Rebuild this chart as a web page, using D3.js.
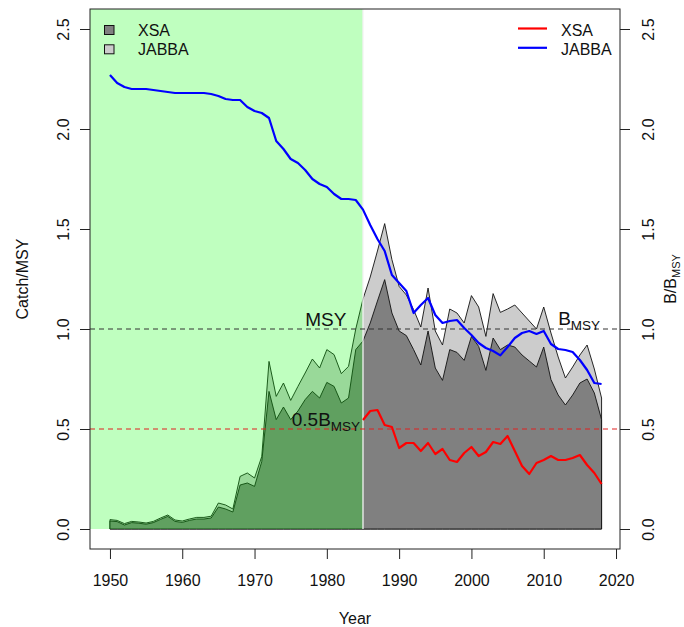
<!DOCTYPE html>
<html>
<head>
<meta charset="utf-8">
<script src="https://cdn.jsdelivr.net/npm/d3@7"></script>
<style>
  body { margin: 0; background: #fff; }
  svg text { font-family: "Liberation Sans", Arial, sans-serif; fill: #111; }
</style>
</head>
<body>
<svg id="chart" width="684" height="627"></svg>
<script>
// ---- data -------------------------------------------------------------
const years = d3.range(1950, 2019);

// catch relative to MSY, by assessment model
const catchJabba = [
  0.047, 0.043, 0.027, 0.038, 0.035, 0.030, 0.038, 0.055, 0.070, 0.045,
  0.040, 0.050, 0.058, 0.058, 0.064, 0.130, 0.120, 0.100, 0.263, 0.280,
  0.255, 0.363, 0.838, 0.663, 0.730, 0.643, 0.713, 0.780, 0.850, 0.805,
  0.897, 0.872, 0.777, 0.813, 1.000, 1.150, 1.260, 1.390, 1.527, 1.347,
  1.213, 1.170, 1.097, 1.010, 1.205, 0.990, 0.920, 1.100, 1.080, 1.030,
  1.167, 1.110, 0.963, 1.177, 1.083, 1.100, 1.120, 1.080, 1.040, 1.000,
  1.110, 0.980, 0.860, 0.755, 0.810, 0.870, 0.920, 0.800, 0.655
];
const catchXsa = [
  0.040, 0.037, 0.020, 0.032, 0.029, 0.024, 0.032, 0.048, 0.063, 0.038,
  0.033, 0.043, 0.050, 0.050, 0.055, 0.110, 0.100, 0.085, 0.220, 0.230,
  0.213, 0.338, 0.688, 0.547, 0.610, 0.547, 0.590, 0.647, 0.688, 0.655,
  0.733, 0.713, 0.630, 0.655, 0.897, 0.940, 1.030, 1.140, 1.247, 1.080,
  0.990, 0.967, 0.897, 0.820, 0.990, 0.805, 0.743, 0.897, 0.883, 0.843,
  0.963, 0.913, 0.793, 0.955, 0.897, 0.920, 0.910, 0.870, 0.840, 0.810,
  0.910, 0.747, 0.670, 0.620, 0.670, 0.730, 0.750, 0.680, 0.547
];

// biomass relative to BMSY
const bJabba = [
  2.270, 2.230, 2.210, 2.200, 2.200, 2.200, 2.195, 2.190, 2.185, 2.180,
  2.180, 2.180, 2.180, 2.180, 2.175, 2.165, 2.150, 2.145, 2.145, 2.110,
  2.090, 2.080, 2.055, 1.940, 1.900, 1.850, 1.830, 1.795, 1.750, 1.725,
  1.710, 1.675, 1.650, 1.650, 1.645, 1.597, 1.520, 1.450, 1.390, 1.270,
  1.230, 1.190, 1.080, 1.120, 1.155, 1.070, 1.030, 1.040, 1.045, 1.005,
  0.970, 0.930, 0.905, 0.890, 0.868, 0.910, 0.955, 0.980, 0.990, 0.975,
  0.990, 0.925, 0.900, 0.895, 0.885, 0.845, 0.795, 0.730, 0.725
];
const xsaYears = d3.range(1985, 2019);
const bXsa = [
  0.545, 0.590, 0.595, 0.520, 0.510, 0.405, 0.430, 0.430, 0.390, 0.430,
  0.375, 0.400, 0.345, 0.335, 0.380, 0.410, 0.365, 0.385, 0.435, 0.425,
  0.465, 0.390, 0.315, 0.275, 0.330, 0.345, 0.365, 0.345, 0.345, 0.355,
  0.370, 0.320, 0.280, 0.225
];

const xTicks = [1950, 1960, 1970, 1980, 1990, 2000, 2010, 2020];
const yTicks = [0, 0.5, 1.0, 1.5, 2.0, 2.5];
const startYear = 1985;   // start of the assessed period

// ---- layout -----------------------------------------------------------
const svg = d3.select("#chart");
const plot = { left: 90, right: 620, top: 9, bottom: 549 };
const x = d3.scaleLinear().domain([1947.24, 2020.55]).range([plot.left, plot.right]);
const y = d3.scaleLinear().domain([-0.1, 2.6]).range([plot.bottom, plot.top]);

const greyLight = "#cccccc", greyDark = "#808080";

// ---- catch polygons ---------------------------------------------------
const catchArea = d3.area()
  .x((d, i) => x(years[i]))
  .y0(y(0))
  .y1(d => y(d));

svg.append("path").datum(catchJabba)
  .attr("d", catchArea)
  .attr("fill", greyLight).attr("stroke", "#111").attr("stroke-width", 0.9)
  .attr("stroke-linejoin", "miter");
svg.append("path").datum(catchXsa)
  .attr("d", catchArea)
  .attr("fill", greyDark).attr("stroke", "#111").attr("stroke-width", 0.9);

// translucent green band over the pre-assessment years
svg.append("rect")
  .attr("x", plot.left).attr("y", y(2.6))
  .attr("width", x(startYear) - plot.left).attr("height", y(0) - y(2.6))
  .attr("fill", "rgb(0,255,0)").attr("fill-opacity", 0.25);
svg.append("line")
  .attr("x1", x(startYear)).attr("x2", x(startYear))
  .attr("y1", y(0)).attr("y2", y(2.6))
  .attr("stroke", "#f2f2f2").attr("stroke-width", 1.3);

// ---- reference lines --------------------------------------------------
svg.append("line")
  .attr("x1", plot.left).attr("x2", plot.right)
  .attr("y1", y(1)).attr("y2", y(1))
  .attr("stroke", "#333").attr("stroke-width", 1).attr("stroke-dasharray", "5,4");
svg.append("line")
  .attr("x1", plot.left).attr("x2", plot.right)
  .attr("y1", y(0.5)).attr("y2", y(0.5))
  .attr("stroke", "#e02020").attr("stroke-width", 1).attr("stroke-dasharray", "5,4");

// ---- biomass trajectories ---------------------------------------------
svg.append("path").datum(bJabba)
  .attr("d", d3.line().x((d, i) => x(years[i])).y(d => y(d)))
  .attr("fill", "none").attr("stroke", "#0000ff").attr("stroke-width", 2.2)
  .attr("stroke-linejoin", "round");
svg.append("path").datum(bXsa)
  .attr("d", d3.line().x((d, i) => x(xsaYears[i])).y(d => y(d)))
  .attr("fill", "none").attr("stroke", "#ff0000").attr("stroke-width", 2.2)
  .attr("stroke-linejoin", "round");

// ---- annotations ------------------------------------------------------
const annot = svg.append("g").attr("font-size", 19);
annot.append("text")
  .attr("x", x(1982.7)).attr("y", y(1) - 3)
  .attr("text-anchor", "end").text("MSY");

const bm = annot.append("text").attr("x", x(2012)).attr("y", y(1) - 4);
bm.append("tspan").text("B");
bm.append("tspan").attr("font-size", 13.5).attr("dy", 5).text("MSY");

const hb = annot.append("text").attr("x", x(1984.6)).attr("y", y(0.5) - 3)
  .attr("text-anchor", "end");
hb.append("tspan").text("0.5B");
hb.append("tspan").attr("font-size", 13.5).attr("dy", 5).text("MSY");

// ---- legends ----------------------------------------------------------
const legL = svg.append("g").attr("font-size", 16);
[["XSA", greyDark], ["JABBA", greyLight]].forEach(([name, col], i) => {
  legL.append("rect")
    .attr("x", 104.5).attr("y", 25.5 + i * 19.3)
    .attr("width", 9.5).attr("height", 9)
    .attr("fill", col).attr("stroke", "#111").attr("stroke-width", 1);
  legL.append("text").attr("x", 138).attr("y", 35.5 + i * 19.3).text(name);
});

const legR = svg.append("g").attr("font-size", 16);
[["XSA", "#ff0000"], ["JABBA", "#0000ff"]].forEach(([name, col], i) => {
  legR.append("line")
    .attr("x1", 518).attr("x2", 547)
    .attr("y1", 28.5 + i * 19.3).attr("y2", 28.5 + i * 19.3)
    .attr("stroke", col).attr("stroke-width", 2.2);
  legR.append("text").attr("x", 561).attr("y", 35.5 + i * 19.3).text(name);
});

// ---- axes -------------------------------------------------------------
const fmt = d3.format(".1f");

const gx = svg.append("g").attr("transform", `translate(0,${plot.bottom})`)
  .call(d3.axisBottom(x).tickValues(xTicks).tickSize(10).tickFormat(d3.format("d")));
gx.select(".domain").remove();
gx.selectAll("text").attr("y", 37).attr("dy", null).attr("font-size", 16)
  .attr("font-family", "Liberation Sans, Arial, sans-serif").attr("fill", "#111");

const gl = svg.append("g").attr("transform", `translate(${plot.left},0)`)
  .call(d3.axisLeft(y).tickValues(yTicks).tickSize(10).tickFormat(fmt));
gl.select(".domain").remove();
gl.selectAll("text").attr("x", null).attr("dy", null)
  .attr("transform", "translate(-21,0) rotate(-90)")
  .attr("text-anchor", "middle").attr("font-size", 16)
  .attr("font-family", "Liberation Sans, Arial, sans-serif").attr("fill", "#111");

const gr = svg.append("g").attr("transform", `translate(${plot.right},0)`)
  .call(d3.axisRight(y).tickValues(yTicks).tickSize(10).tickFormat(fmt));
gr.select(".domain").remove();
gr.selectAll("text").attr("x", null).attr("dy", null)
  .attr("transform", "translate(34,0) rotate(-90)")
  .attr("text-anchor", "middle").attr("font-size", 16)
  .attr("font-family", "Liberation Sans, Arial, sans-serif").attr("fill", "#111");

[gx, gl, gr].forEach(g => g.selectAll(".tick line").attr("stroke", "#222"));

// plot frame
svg.append("rect")
  .attr("x", plot.left).attr("y", plot.top)
  .attr("width", plot.right - plot.left).attr("height", plot.bottom - plot.top)
  .attr("fill", "none").attr("stroke", "#222").attr("stroke-width", 1);

// axis titles
svg.append("text")
  .attr("x", (plot.left + plot.right) / 2).attr("y", 623.5)
  .attr("text-anchor", "middle").attr("font-size", 16).text("Year");

const midY = (plot.top + plot.bottom) / 2;
svg.append("text")
  .attr("transform", `translate(27.5,${midY}) rotate(-90)`)
  .attr("text-anchor", "middle").attr("font-size", 16).text("Catch/MSY");

const rt = svg.append("text")
  .attr("transform", `translate(676,${midY}) rotate(-90)`)
  .attr("text-anchor", "middle").attr("font-size", 16);
rt.append("tspan").text("B/B");
rt.append("tspan").attr("font-size", 11).attr("dy", 3.5).text("MSY");
</script>
</body>
</html>
